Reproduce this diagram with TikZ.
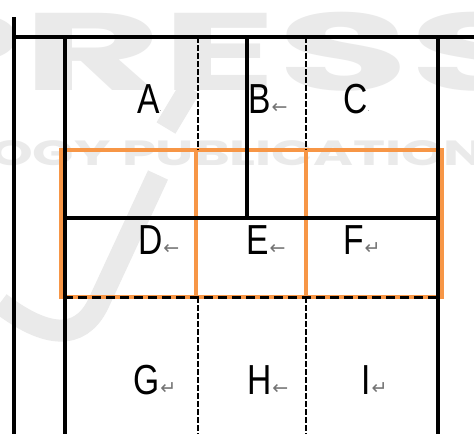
\documentclass[tikz,border=0pt]{standalone}
\usepackage{fontspec}
\usepackage{graphicx}
\newfontfamily\lblfont{Liberation Sans}
\newfontfamily\symfont{DejaVu Sans}
\newfontfamily\wmfont{Poppins}
\definecolor{orng}{RGB}{247,150,70}
\definecolor{wm}{RGB}{234,234,234}
\newcommand\mkL{\hspace{1pt}{\color{black!55}\symfont\fontsize{19}{19}\selectfont ←}}
\newcommand\mkR{\hspace{1pt}{\color{black!55}\symfont\fontsize{19}{19}\selectfont ↵}}
\newcommand\mkD{{\color{gray}\symfont\fontsize{7}{7}\selectfont ·}}
\newcommand\nl[1]{\scalebox{0.8}[1]{#1}}
\tikzset{
  lbl/.style={anchor=base west, inner sep=0pt, font=\lblfont\fontsize{42}{42}\selectfont},
  gridborder/.style={line width=4.5pt},
  thinsep/.style={line width=1.8pt, dash pattern=on 6pt off 2pt},
  solidbar/.style={line width=4.5pt},
  orangebar/.style={orng, line width=4.5pt},
  dashbar/.style={line width=3pt, dash pattern=on 9pt off 5pt},
  wmtext/.style={anchor=base west, inner sep=0pt, text=wm},
}
\begin{document}
\begin{tikzpicture}[x=1pt,y=-1pt]
\useasboundingbox (0,0) rectangle (474,434);
\fill[white] (0,0) rectangle (474,434);
% watermark
\begin{scope}
\clip (0,0) rectangle (474,434);
\node[wmtext, font=\wmfont\bfseries\fontsize{110}{110}\selectfont] (wm1) at (-112,90) {\scalebox{1.95}[1]{PRESS}};
\node[wmtext, font=\wmfont\bfseries\fontsize{35}{35}\selectfont] (wm2) at (-10,165) {\scalebox{1.55}[1]{OGY PUBLICATION}};
\draw[wm, line width=22pt] (190,88) -- (166,128);
\draw[wm, line width=22pt] (158,175) -- (100,300) .. controls (85,335) and (55,345) .. (0,303);
\end{scope}
% left long line and top line
\coordinate (lt) at (14,17);
\coordinate (lb) at (14,434);
\coordinate (tl) at (12,37);
\coordinate (tr) at (474,37);
\draw[solidbar] (lt) -- (lb);
\draw[solidbar] (tl) -- (tr);
% orange box
\coordinate (o1) at (61,150);
\coordinate (o2) at (442,297);
\draw[orangebar] (o1) rectangle (o2);
\coordinate (oa1) at (196,150); \coordinate (oa2) at (196,297);
\coordinate (ob1) at (306,150); \coordinate (ob2) at (306,297);
\draw[orangebar] (oa1) -- (oa2);
\draw[orangebar] (ob1) -- (ob2);
% grid borders
\coordinate (gl1) at (65,37); \coordinate (gl2) at (65,434);
\coordinate (gr1) at (438,37); \coordinate (gr2) at (438,434);
\draw[gridborder] (gl1) -- (gl2);
\draw[gridborder] (gr1) -- (gr2);
% thin separators
\coordinate (c1a) at (198,37); \coordinate (c1b) at (198,150);
\coordinate (c1c) at (198,297); \coordinate (c1d) at (198,434);
\coordinate (c2a) at (306,37); \coordinate (c2b) at (306,150);
\coordinate (c2c) at (306,297); \coordinate (c2d) at (306,434);
\draw[thinsep] (c1a) -- (c1b);
\draw[thinsep] (c1c) -- (c1d);
\draw[thinsep] (c2a) -- (c2b);
\draw[thinsep] (c2c) -- (c2d);
% B bar and mid line
\coordinate (ba) at (247,37); \coordinate (bb) at (247,218);
\draw[solidbar] (ba) -- (bb);
\coordinate (ml) at (64,218); \coordinate (mr) at (439,218);
\draw[solidbar] (ml) -- (mr);
% dashed line
\coordinate (dl) at (64,297); \coordinate (dr) at (439,297);
\draw[dashbar] (dl) -- (dr);
% labels
\node[lbl] (A) at (137,113) {\nl{A}\mkD};
\node[lbl] (B) at (248,113) {\nl{B}\mkL};
\node[lbl] (C) at (343,113) {\nl{C}\mkD};
\node[lbl] (D) at (138,254) {\nl{D}\mkL};
\node[lbl] (E) at (246,254) {\nl{E}\mkL};
\node[lbl] (F) at (343,254) {\nl{F}\mkR};
\node[lbl] (G) at (133,394) {\nl{G}\mkR};
\node[lbl] (H) at (247,394) {\nl{H}\mkL};
\node[lbl] (I) at (361,394) {\nl{I}\mkR};
\end{tikzpicture}
\end{document}
